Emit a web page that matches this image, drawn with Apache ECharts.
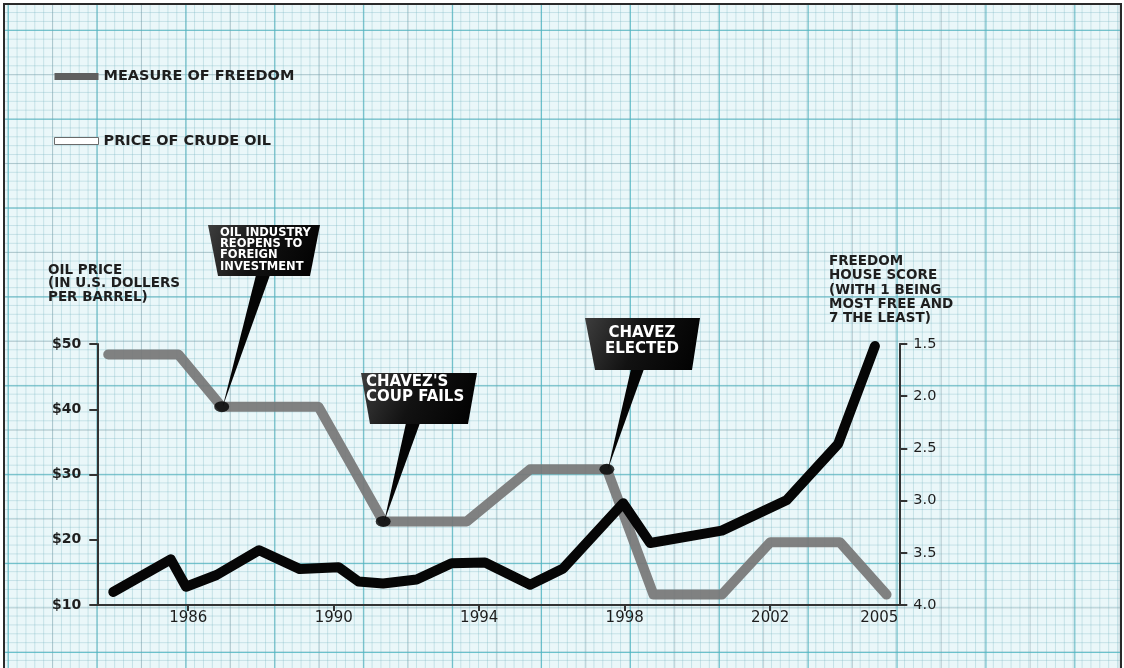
<!DOCTYPE html>
<html>
<head>
<meta charset="utf-8">
<title>Oil price and freedom in Venezuela</title>
<script src="https://cdn.jsdelivr.net/npm/echarts@6.0.0/dist/echarts.min.js"></script>
<style>
html,body{margin:0;padding:0;width:1124px;height:668px;overflow:hidden;background:#fff;}
#paper{position:absolute;left:5px;top:5px;width:1115px;height:663px;background-color:#eaf7f9;
background-image:
linear-gradient(to right, rgba(70,185,198,0.72) 0, rgba(70,185,198,0.72) 1.2px, transparent 1.2px),
linear-gradient(to bottom, rgba(70,185,198,0.72) 0, rgba(70,185,198,0.72) 1.2px, transparent 1.2px),
linear-gradient(to right, rgba(120,145,155,0.36) 0, rgba(120,145,155,0.36) 1px, transparent 1px),
linear-gradient(to bottom, rgba(120,145,155,0.36) 0, rgba(120,145,155,0.36) 1px, transparent 1px),
linear-gradient(to right, rgba(110,175,188,0.30) 0, rgba(110,175,188,0.30) 1px, transparent 1px),
linear-gradient(to bottom, rgba(110,175,188,0.30) 0, rgba(110,175,188,0.30) 1px, transparent 1px);
background-size:88.9px 100%,100% 88.9px,44.45px 100%,100% 44.45px,8.89px 100%,100% 8.89px;
background-position:2.7px 0,0 24.8px,2.7px 0,0 24.8px,2.7px 0,0 24.8px;}
#frame{position:absolute;left:3px;top:3px;width:1119px;height:680px;border:2px solid #2a2a2a;box-sizing:border-box;}
#chart{position:absolute;left:0;top:0;width:1124px;height:668px;}
</style>
</head>
<body>
<div id="paper"></div>
<div id="frame"></div>
<div id="chart"></div>
<script>
// ---- data ----
const oilYears = [1983.94, 1985.52, 1985.94, 1986.78, 1987.95, 1989.07, 1990.13, 1990.68, 1991.36, 1992.28, 1993.24, 1994.16, 1995.40, 1996.31, 1997.96, 1998.70, 2000.67, 2002.46, 2003.87, 2004.88];
const oilPrice = [12.0, 17.0, 12.8, 14.6, 18.4, 15.5, 15.8, 13.6, 13.3, 13.9, 16.4, 16.5, 13.1, 15.6, 25.6, 19.5, 21.4, 26.1, 34.7, 49.7];
const freedomYears = [1983.80, 1985.73, 1986.92, 1989.58, 1991.36, 1993.66, 1995.40, 1997.51, 1998.79, 2000.67, 2002.00, 2003.92, 2005.20];
const freedomScore = [1.6, 1.6, 2.1, 2.1, 3.2, 3.2, 2.7, 2.7, 3.9, 3.9, 3.4, 3.4, 3.9];
const yearTicks = [1986, 1990, 1994, 1998, 2002, 2005];
const yearTickMarks = [1986, 1990, 1994, 1998, 2002];
const eventLabels = ["OIL INDUSTRY\nREOPENS TO\nFOREIGN\nINVESTMENT", "CHAVEZ'S\nCOUP FAILS", "CHAVEZ\nELECTED"];
const eventIndex = [2, 4, 7];
const legendNames = ['MEASURE OF FREEDOM', 'PRICE OF CRUDE OIL'];
const leftTitle = 'OIL PRICE\n(IN U.S. DOLLERS\nPER BARREL)';
const rightTitle = 'FREEDOM\nHOUSE SCORE\n(WITH 1 BEING\nMOST FREE AND\n7 THE LEAST)';

const FONT = 'DejaVu Sans';
const INK = '#1e1e1e';
const chart = echarts.init(document.getElementById('chart'), null, {renderer: 'canvas'});

const axisLineStyle = {color: '#333', width: 2};
const option = {
  backgroundColor: 'transparent',
  animation: false,
  grid: {left: 97.3, right: 224.7, top: 344, bottom: 63, containLabel: false, outerBoundsMode: 'none'},
  legend: {
    orient: 'vertical', left: 54, top: 69, padding: 0, itemWidth: 44, itemHeight: 7, itemGap: 49.5, icon: 'rect',
    selectedMode: false,
    textStyle: {fontFamily: FONT, fontSize: 14.5, fontWeight: 'bold', color: INK},
    data: [
      {name: legendNames[0], itemStyle: {color: '#5f5f5f', borderWidth: 0}},
      {name: legendNames[1], itemStyle: {color: '#ffffff', borderColor: '#6a6a6a', borderWidth: 1}}
    ]
  },
  xAxis: {
    type: 'value', min: 1983.5, max: 2005.55,
    axisLine: {show: true, onZero: false, lineStyle: axisLineStyle},
    axisTick: {show: true, customValues: yearTickMarks, length: 6, lineStyle: axisLineStyle},
    axisLabel: {customValues: yearTicks, formatter: v => String(Math.round(v)), margin: 6,
      fontFamily: FONT, fontSize: 15, color: INK},
    splitLine: {show: false}
  },
  yAxis: [
    {
      type: 'value', position: 'left', min: 10, max: 50, interval: 10,
      axisLine: {show: true, lineStyle: axisLineStyle},
      axisTick: {show: true, length: 8, lineStyle: axisLineStyle},
      axisLabel: {formatter: '${value}', margin: 16, fontFamily: FONT, fontSize: 14, fontWeight: 'bold', color: INK},
      splitLine: {show: false}
    },
    {
      type: 'value', position: 'right', min: 1.5, max: 4.0, interval: 0.5, inverse: true,
      axisLine: {show: true, lineStyle: axisLineStyle},
      axisTick: {show: true, length: 8, lineStyle: axisLineStyle},
      axisLabel: {formatter: v => v.toFixed(1), margin: 14, fontFamily: FONT, fontSize: 14.5, color: INK},
      splitLine: {show: false}
    }
  ],
  series: [
    {
      name: legendNames[0], type: 'line', yAxisIndex: 1, symbol: 'none', z: 2,
      data: freedomYears.map((x, i) => [x, freedomScore[i]]),
      lineStyle: {color: '#777777', width: 10, cap: 'round', join: 'round', opacity: 0.93},
      itemStyle: {color: '#5f5f5f'}
    },
    {
      name: legendNames[1], type: 'line', yAxisIndex: 0, symbol: 'none', z: 3,
      data: oilYears.map((x, i) => [x, oilPrice[i]]),
      lineStyle: {color: '#060606', width: 10, cap: 'round', join: 'round'},
      itemStyle: {color: '#060606'}
    },
    {
      name: 'events', type: 'scatter', yAxisIndex: 1, silent: true, z: 4,
      symbol: 'circle', symbolSize: [15, 11],
      data: eventIndex.map(i => [freedomYears[i], freedomScore[i]]),
      itemStyle: {color: '#000'}
    }
  ],
  graphic: [
    {type: 'text', left: 48, top: 263, z: 50,
     style: {text: leftTitle, fill: INK, fontFamily: FONT, fontSize: 13.5, fontWeight: 'bold', lineHeight: 13.8}},
    {type: 'text', left: 829, top: 254.5, z: 50,
     style: {text: rightTitle, fill: INK, fontFamily: FONT, fontSize: 13.5, fontWeight: 'bold', lineHeight: 14.2}}
  ]
};
chart.setOption(option);

// ---- callout boxes (layout only); pointers aim at the event points via the axes ----
const calloutLayout = [
  {poly: [[208, 225], [320, 225], [310, 276], [218, 276]], tx: 220, ty: 227, align: 'left', size: 11.5, lh: 11.3, base: [256, 270]},
  {poly: [[361, 373], [477, 373], [468, 424], [370, 424]], tx: 366, ty: 374, align: 'left', size: 15, lh: 15.5, base: [406, 420]},
  {poly: [[585, 318], [700, 318], [692, 370], [595, 370]], tx: 642, ty: 325, align: 'center', size: 15, lh: 16, base: [631, 644]}
];
const extra = [];
eventIndex.forEach((idx, k) => {
  const tip = chart.convertToPixel({xAxisIndex: 0, yAxisIndex: 1}, [freedomYears[idx], freedomScore[idx]]);
  const L = calloutLayout[k];
  const by = L.poly[2][1] - 1;
  extra.push({type: 'polygon', z: 60, shape: {points: [[L.base[0], by], [L.base[1], by], [tip[0] + 1, tip[1]]]},
    style: {fill: '#050505'}});
  extra.push({type: 'polygon', z: 61, shape: {points: L.poly},
    style: {fill: {type: 'linear', x: 0, y: 0, x2: 1, y2: 1,
      colorStops: [{offset: 0, color: '#3d3d3d'}, {offset: 0.45, color: '#121212'}, {offset: 1, color: '#000'}]}}});
  extra.push({type: 'text', z: 62, x: L.tx, y: L.ty,
    style: {text: eventLabels[k], fill: '#ffffff', fontFamily: FONT, fontWeight: 'bold', fontSize: L.size,
      lineHeight: L.lh, align: L.align, verticalAlign: 'top'}});
});
chart.setOption({graphic: option.graphic.concat(extra)});
</script>
</body>
</html>
